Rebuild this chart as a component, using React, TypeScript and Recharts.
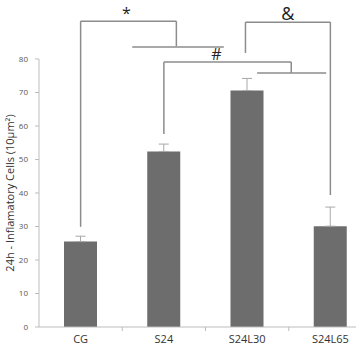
import { BarChart, Bar, XAxis, YAxis, ErrorBar, ReferenceLine, ReferenceDot } from 'recharts'

const categories = ['CG', 'S24', 'S24L30', 'S24L65']
const means = [25.5, 52.4, 70.6, 30.1]
const errors = [1.6, 2.2, 3.6, 5.7]
const yTicks = [0, 10, 20, 30, 40, 50, 60, 70, 80]
const boundaryTicks = [0.5, 1.5, 2.5]

// significance brackets, in data units (x = category index)
const bracketStar = [[0, 29.9], [0, 91.3], [1.15, 91.3], [1.15, 83.8]]
const barStar = [[0.62, 83.6], [1.72, 83.6]]
const bracketHash = [[1, 57.6], [1, 79.1], [2.53, 79.1], [2.53, 75.8]]
const barHash = [[2.12, 75.8], [2.95, 75.8]]
const bracketAmp = [[1.98, 81.8], [1.98, 91.0], [3, 91.0], [3, 39.4]]
const markLabels = ['*', '#', '&']
const markSizes = [16, 16, 18]
const markPos = [[0.55, 93.6], [1.63, 81.4], [2.49, 93.6]]

const data = categories.map((name, i) => ({
  name,
  idx: i,
  value: means[i],
  err: [0, errors[i]],
}))

const toSegments = (pts: number[][]) =>
  pts.slice(1).map((p, i) => [
    { x: pts[i][0], y: pts[i][1] },
    { x: p[0], y: p[1] },
  ])

const segments = [bracketStar, barStar, bracketHash, barHash, bracketAmp].flatMap(toSegments)

const lineColor = '#8c8c8c'
const axisColor = '#bdbdbd'

export default function App() {
  return (
    <div style={{ position: 'absolute', left: 0, top: 0, width: 356, height: 345, overflow: 'hidden', background: '#fff' }}>
      <BarChart
        width={380}
        height={345}
        data={data}
        margin={{ top: 59, right: 8, bottom: 0, left: 0 }}
        style={{ fontFamily: '"Open Sans", sans-serif' }}
      >
        <XAxis
          dataKey="name"
          height={18}
          tickLine={false}
          axisLine={{ stroke: axisColor }}
          tick={{ fontSize: 11, fill: '#333' }}
          interval={0}
        />
        <XAxis xAxisId="n" dataKey="idx" type="number" domain={[-0.5, 3.5]} allowDataOverflow hide />
        <YAxis
          width={39}
          domain={[0, 80]}
          ticks={yTicks}
          tickSize={4}
          tickMargin={7}
          tick={{ fontSize: 8, fill: '#555' }}
          axisLine={{ stroke: axisColor }}
          tickLine={{ stroke: axisColor }}
          label={{
            value: '24h - Inflamatory Cells (10µm²)',
            angle: -90,
            position: 'center',
            dx: -9,
            style: { fontSize: 11, fill: '#333' },
          }}
        />
        <Bar dataKey="value" fill="#6d6d6d" barSize={33} isAnimationActive={false}>
          <ErrorBar dataKey="err" width={5} stroke="#a8a8a8" strokeWidth={1} />
        </Bar>
        {boundaryTicks.map((t) => (
          <ReferenceLine
            key={`t${t}`}
            xAxisId="n"
            segment={[{ x: t, y: 0 }, { x: t, y: -1.2 }]}
            stroke={axisColor}
            ifOverflow="visible"
          />
        ))}
        {segments.map((seg, i) => (
          <ReferenceLine
            key={`s${i}`}
            xAxisId="n"
            segment={seg}
            stroke={lineColor}
            strokeWidth={1.5}
            ifOverflow="visible"
          />
        ))}
        {markLabels.map((m, i) => (
          <ReferenceDot
            key={m}
            xAxisId="n"
            x={markPos[i][0]}
            y={markPos[i][1]}
            r={0}
            stroke="none"
            fill="none"
            ifOverflow="visible"
            label={{ value: m, position: 'center', fontSize: markSizes[i], fill: '#222' }}
          />
        ))}
      </BarChart>
    </div>
  )
}
